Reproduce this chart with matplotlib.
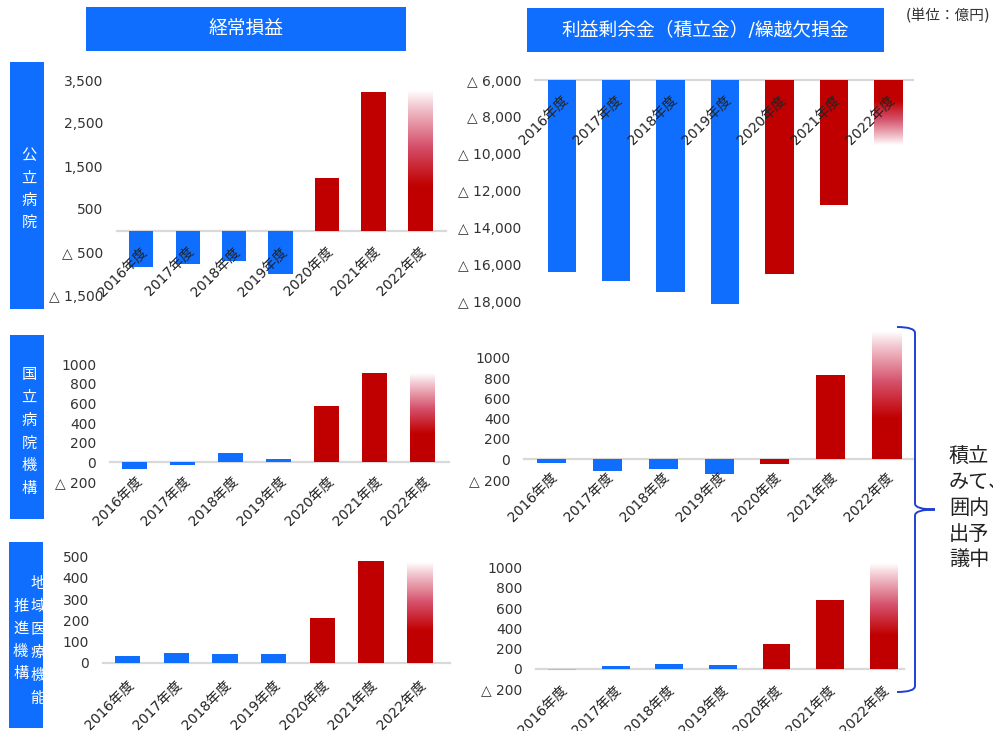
import matplotlib
matplotlib.use('Agg')
import matplotlib.pyplot as plt
import numpy as np
from matplotlib.patches import Rectangle, PathPatch
from matplotlib.path import Path
from matplotlib.colors import LinearSegmentedColormap
from matplotlib.ticker import FuncFormatter

plt.rcParams['font.family'] = ['DejaVu Sans', 'Noto Sans CJK JP']

# ---------------- data (億円) ----------------
years = ['2016年度', '2017年度', '2018年度', '2019年度', '2020年度', '2021年度', '2022年度']
pub_ordinary = [-850, -790, -700, -1000, 1220, 3230, 3260]
pub_reserve = [-16400, -16900, -17500, -18100, -16500, -12750, -9500]
nho_ordinary = [-75, -27, 90, 27, 575, 910, 902]
nho_reserve = [-40, -120, -100, -145, -50, 830, 1260]
jcho_ordinary = [31, 49, 42, 43, 213, 478, 475]
jcho_reserve = [-12, 30, 50, 40, 245, 680, 1040]

ticks_pub_ord = [3500, 2500, 1500, 500, -500, -1500]
ticks_pub_res = [-6000, -8000, -10000, -12000, -14000, -16000, -18000]
ticks_nho = [1000, 800, 600, 400, 200, 0, -200]
ticks_jcho_ord = [500, 400, 300, 200, 100, 0]
ticks_jcho_res = [1000, 800, 600, 400, 200, 0, -200]

header_left = '経常損益'
header_right = '利益剰余金（積立金）/繰越欠損金'
unit_text = '(単位：億円)'
side_notes = ['積立', 'みて、', '囲内', '出予', '議中']

BLUE = '#0F6EFD'
RED = '#C00000'
LIGHTBLUE = '#9DC3E6'
GRAY = '#D9D9D9'

W, H = 993, 731
fig = plt.figure(figsize=(W / 100, H / 100), dpi=100)

grad_cmap = LinearSegmentedColormap.from_list(
    'fade', [(0.0, RED), (0.32, RED), (0.6, '#D5506A'), (0.88, '#F2C6CF'), (1.0, '#FFFFFF')])


def fx(x):
    return x / W


def fy(y):
    return 1 - y / H


def fmt_comma(v, pos):
    return f'△ {abs(v):,.0f}' if v < 0 else f'{v:,.0f}'


def fmt_plain(v, pos):
    return f'△ {abs(v):.0f}' if v < 0 else f'{v:.0f}'


def panel(rect_px, vals, ylim, xlim, yticks, fmt, colors, base, label_off):
    l, t, r, b = rect_px
    ax = fig.add_axes([fx(l), fy(b), (r - l) / W, (b - t) / H])
    ax.patch.set_alpha(0)
    x = np.arange(len(vals))
    n = len(vals) - 1
    heights = [v - base for v in vals]
    ax.bar(x[:n], heights[:n], width=0.52, bottom=base, color=colors[:n], zorder=1)
    # gradient (forecast) bar
    g = np.linspace(0, 1, 256).reshape(-1, 1)
    tip = vals[n]
    if tip >= base:
        arr, lo, hi = g, base, tip
    else:
        arr, lo, hi = g[::-1], tip, base
    ax.imshow(arr, cmap=grad_cmap, vmin=0, vmax=1, extent=(n - 0.26, n + 0.26, lo, hi),
              origin='lower', aspect='auto', interpolation='bilinear', zorder=1)
    ax.axhline(base, color=GRAY, lw=1.6, clip_on=False, zorder=0.5)
    ax.set_xlim(xlim)
    ax.set_ylim(ylim)
    ax.set_yticks(yticks)
    ax.yaxis.set_major_formatter(FuncFormatter(fmt))
    ax.set_xticks([])
    for s in ax.spines.values():
        s.set_visible(False)
    ax.tick_params(axis='y', length=0, pad=10, labelsize=10, labelcolor='#333333')
    for xi, lab in zip(x, years):
        ax.annotate(lab, xy=(xi, base), xytext=label_off, textcoords='offset pixels',
                    rotation=45, rotation_mode='anchor', ha='right', va='center',
                    fontsize=10, color='#222222', annotation_clip=False, zorder=3)
    return ax


cols = [BLUE] * 4 + [RED] * 2 + [RED]
cols_br = [LIGHTBLUE] + [BLUE] * 3 + [RED] * 2 + [RED]

# top-left / top-right
panel((117, 80, 446, 295), pub_ordinary, (-1500, 3500), (-0.52, 6.56), ticks_pub_ord,
      fmt_comma, cols, 0, (4, -19))
panel((535, 80, 913, 305.4), pub_reserve, (-18200, -6000), (-0.49, 6.45), ticks_pub_res,
      fmt_comma, cols, -6000, (4, -18))
# middle
panel((110, 364.3, 449, 481.7), nho_ordinary, (-200, 1000), (-0.51, 6.56), ticks_nho,
      fmt_plain, cols, 0, (6, -17))
panel((524, 327.6, 913, 479.3), nho_reserve, (-200, 1300), (-0.49, 6.47), ticks_nho,
      fmt_plain, cols, 0, (4, -16))
# bottom
panel((102.7, 556.7, 450, 663), jcho_ordinary, (0, 500), (-0.51, 6.62), ticks_jcho_ord,
      fmt_plain, cols, 0, (4, -20))
panel((536, 557.4, 904, 689), jcho_reserve, (-200, 1100), (-0.49, 6.38), ticks_jcho_res,
      fmt_plain, cols_br, 0, (3, -19))


# ---------------- headers ----------------
def box(l, t, r, b):
    rect = Rectangle((fx(l), fy(b)), (r - l) / W, (b - t) / H, transform=fig.transFigure,
                     facecolor=BLUE, edgecolor='none', zorder=0)
    fig.add_artist(rect)
    return rect


box(86, 7, 406, 51)
fig.text(fx(246), fy(29), header_left, color='white', fontsize=13.5, ha='center', va='center')
box(527, 8, 884, 52)
fig.text(fx(705.5), fy(30), header_right, color='white', fontsize=13.5, ha='center', va='center')
fig.text(fx(906), fy(16), unit_text, color='#333333', fontsize=10.5, ha='left', va='center')

# ---------------- left labels ----------------
box(10, 62, 44, 309)
for k, ch in enumerate('公立病院'):
    fig.text(fx(29), fy(155.7 + 22.4 * k), ch, color='white', fontsize=11, ha='center', va='center')
box(10, 335, 44, 519)
for k, ch in enumerate('国立病院機構'):
    fig.text(fx(29), fy(375 + 22.7 * k), ch, color='white', fontsize=11, ha='center', va='center')
r3 = box(9.3, 542.3, 43.3, 728.3)
for k, ch in enumerate('地域医療機能'):
    tx = fig.text(fx(38), fy(583.3 + 23 * k), ch, color='white', fontsize=11, ha='center', va='center')
    tx.set_clip_path(r3)
for k, ch in enumerate('推進機構'):
    fig.text(fx(20.7), fy(606.3 + 22.5 * k), ch, color='white', fontsize=11, ha='center', va='center')

# ---------------- brace and side note ----------------
bx, btop, bbot, bmid, btip, bl = 915, 327, 692, 509.5, 935, 897
verts = [(bl, btop), (bx, btop), (bx, btop + 6),
         (bx, bmid - 6),
         (bx, bmid), (btip, bmid),
         (bx, bmid), (bx, bmid + 6),
         (bx, bbot - 6),
         (bx, bbot), (bl, bbot)]
codes = [Path.MOVETO, Path.CURVE3, Path.CURVE3,
         Path.LINETO,
         Path.CURVE3, Path.CURVE3,
         Path.CURVE3, Path.CURVE3,
         Path.LINETO,
         Path.CURVE3, Path.CURVE3]
verts_f = [(fx(a), fy(b)) for a, b in verts]
fig.add_artist(PathPatch(Path(verts_f, codes), transform=fig.transFigure, fill=False,
                         edgecolor='#2040D0', lw=1.4))
for k, line in enumerate(side_notes):
    fig.text(fx(949), fy(457 + 25.8 * k), line, color='#222222', fontsize=14.5, ha='left', va='center')

fig.savefig('out.png', dpi=100)
